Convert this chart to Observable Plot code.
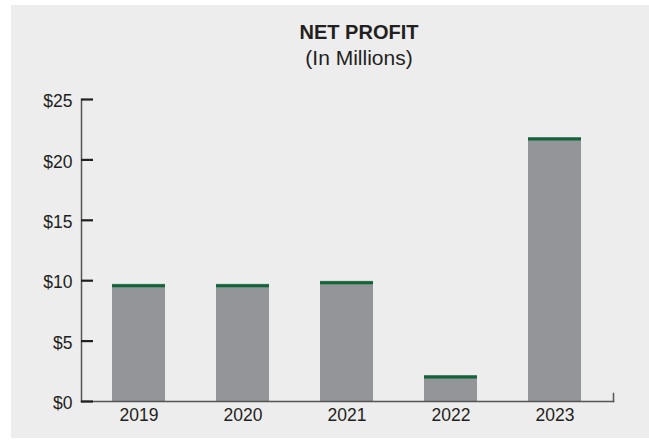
<!DOCTYPE html>
<html>
<head>
<meta charset="utf-8">
<script src="https://cdn.jsdelivr.net/npm/d3@7"></script>
<script src="https://cdn.jsdelivr.net/npm/@observablehq/plot@0.6"></script>
<style>
  html, body { margin: 0; padding: 0; background: #ffffff; }
  #card {
    position: absolute; left: 11px; top: 5px; width: 638px; height: 433px;
    background: #ededed; font-family: "Liberation Sans", Arial, sans-serif; color: #231f20;
  }
  #title {
    box-sizing: border-box; height: 75px; padding-top: 14px; padding-left: 58px;
    text-align: center; line-height: 26px; font-size: 20px;
  }
  #title .t { font-weight: bold; }
  #title .s { font-size: 21px; }
  #chart svg { display: block; }
</style>
</head>
<body>
<div id="card">
  <div id="title"><div class="t">NET PROFIT</div><div class="s">(In Millions)</div></div>
  <div id="chart"></div>
</div>
<script>
const years = ["2019", "2020", "2021", "2022", "2023"];
const profit = [9.7, 9.7, 9.95, 2.15, 21.85];
const yTicks = [0, 5, 10, 15, 20, 25];

const data = years.map((year, i) => ({year, value: profit[i]}));

const axisColor = "#555555";
const tickColor = "#231f20";
const barColor = "#939598";
const capColor = "#0f6638";

const H = 358, MT = 19, MB = 37;
const tickFont = "'Liberation Sans', Arial, sans-serif";

const chart = Plot.plot({
  width: 638,
  height: H,
  marginLeft: 70,
  marginRight: 36,
  marginTop: MT,
  marginBottom: MB,
  style: {background: "transparent", fontFamily: tickFont, fontSize: "17.5px", color: tickColor},
  x: {domain: years, paddingInner: 0.49, paddingOuter: 0.3},
  y: {domain: [0, 25]},
  marks: [
    Plot.barY(data, {x: "year", y: "value", fill: barColor}),
    Plot.tickY(data, {x: "year", y: "value", stroke: capColor, strokeWidth: 3, dy: 1.5}),
    Plot.frame({anchor: "left", stroke: axisColor, strokeWidth: 1.5}),
    Plot.frame({anchor: "bottom", stroke: axisColor, strokeWidth: 1.5}),
    Plot.frame({anchor: "right", stroke: axisColor, strokeWidth: 1.5, insetTop: (H - MT - MB) - 8}),
    Plot.axisY({ticks: yTicks, tickSize: 0, tickPadding: 9, dy: 2, tickFormat: d => "$" + d, label: null, fill: tickColor, fontSize: 17.5}),
    Plot.axisY({ticks: yTicks, tickSize: -12, tickFormat: () => "", label: null, stroke: tickColor, strokeWidth: 2.2}),
    Plot.axisX({tickSize: 0, tickPadding: 7.5, label: null, fill: tickColor, fontSize: 17.5})
  ]
});
document.getElementById("chart").appendChild(chart);
</script>
</body>
</html>
